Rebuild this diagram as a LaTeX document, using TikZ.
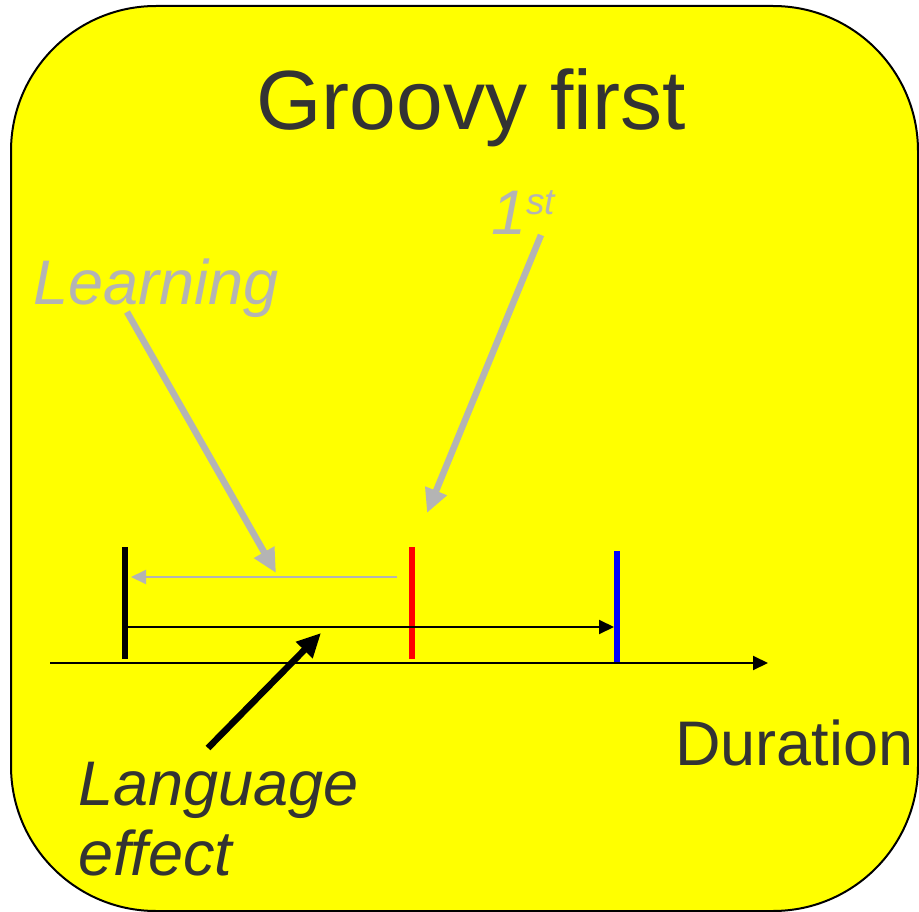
\documentclass[tikz,border=0pt]{standalone}
\usepackage{fontspec}
\setmainfont{Liberation Sans}
\usepackage{xcolor}
\usetikzlibrary{arrows.meta}

\definecolor{panelyellow}{RGB}{255,255,0}
\definecolor{textgray}{RGB}{51,51,51}
\definecolor{hintgray}{RGB}{180,180,180}

\begin{document}
\begin{tikzpicture}[
  x=1pt, y=-1pt,
  every node/.style={inner sep=0pt, outer sep=0pt},
  label/.style={font=\fontsize{63}{70}\selectfont\itshape, anchor=base west},
  tick/.style={line width=6pt},
  thin/.style={-{Triangle[length=15pt, width=14pt]}, line width=2pt},
  fat/.style={-{Triangle[length=24pt, width=22pt]}, line width=6.5pt},
]
\useasboundingbox (0,0) rectangle (919,912);

% panel
\draw[fill=panelyellow, line width=2pt, rounded corners=145pt]
  (11,6) rectangle (918,911);

\node[anchor=base, text=textgray, font=\fontsize{84}{90}\selectfont]
  (title) at (471,130) {Groovy first};

% time points
\coordinate (axisstart) at (50,663);
\coordinate (axisend)   at (768,663);
\coordinate (blacktop)  at (125,547);
\coordinate (blackbot)  at (125,659);
\coordinate (redtop)    at (412,547);
\coordinate (redbot)    at (412,659);
\coordinate (bluetop)   at (617,551);
\coordinate (bluebot)   at (617,664);

\draw[tick] (blacktop) -- (blackbot);
\draw[tick, red] (redtop) -- (redbot);
\draw[tick, blue] (bluetop) -- (bluebot);

\draw[thin] (axisstart) -- (axisend);

% durations
\coordinate (blackrun) at (128,627);
\coordinate (bluehit)  at (614,627);
\coordinate (redrun)   at (397,577);
\coordinate (blackhit) at (131,577);
\draw[thin] (blackrun) -- (bluehit);
\draw[thin, hintgray] (redrun) -- (blackhit);

% labels
\node[label, text=hintgray] (learning) at (33,305) {Learning};
\node[label, text=hintgray] (first) at (491,235)
  {1\raisebox{20pt}{\fontsize{37}{40}\selectfont st}};
\node[label, font=\fontsize{63}{70}\selectfont, text=textgray]
  (duration) at (675,765) {Duration};
\node[label, text=textgray] (lang) at (78,805) {Language};
\node[label, text=textgray] (effect) at (78,875) {effect};

% pointers
\coordinate (learnfrom) at (127,312);
\coordinate (learnto)   at (276,573);
\coordinate (firstfrom) at (541,235);
\coordinate (firstto)   at (427,513);
\coordinate (langfrom)  at (208,748);
\coordinate (langto)    at (321,633);
\draw[fat, hintgray] (learnfrom) -- (learnto);
\draw[fat, hintgray] (firstfrom) -- (firstto);
\draw[fat] (langfrom) -- (langto);
\end{tikzpicture}
\end{document}
